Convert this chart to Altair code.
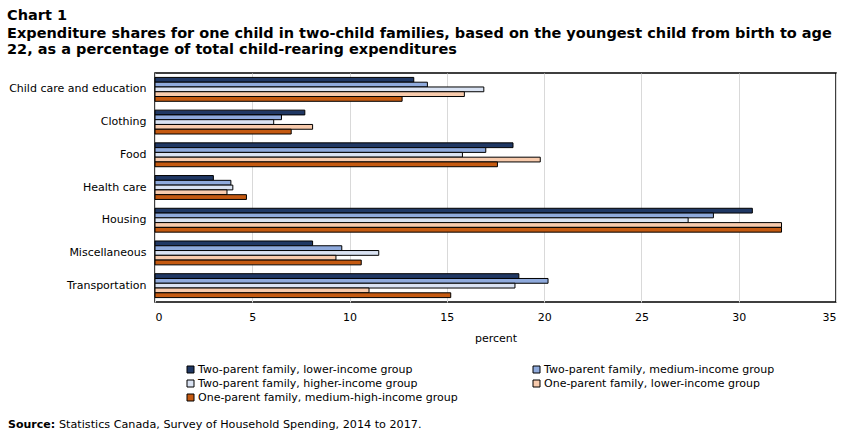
import altair as alt
import pandas as pd

# Expenditure categories (top to bottom) and family types
categories = [
    "Child care and education",
    "Clothing",
    "Food",
    "Health care",
    "Housing",
    "Miscellaneous",
    "Transportation",
]
series = [
    "Two-parent family, lower-income group",
    "Two-parent family, medium-income group",
    "Two-parent family, higher-income group",
    "One-parent family, lower-income group",
    "One-parent family, medium-high-income group",
]
colors = ["#203864", "#8faadc", "#dae3f3", "#f8cbad", "#c55a11"]

# Shares (%) by family type, in category order
two_lower = [13.3, 7.7, 18.4, 3.0, 30.7, 8.1, 18.7]
two_medium = [14.0, 6.5, 17.0, 3.9, 28.7, 9.6, 20.2]
two_higher = [16.9, 6.1, 15.8, 4.0, 27.4, 11.5, 18.5]
one_lower = [15.9, 8.1, 19.8, 3.7, 32.2, 9.3, 11.0]
one_medhigh = [12.7, 7.0, 17.6, 4.7, 32.2, 10.6, 15.2]

x_ticks = [0, 5, 10, 15, 20, 25, 30, 35]

chart_label = "Chart 1"
title_lines = [
    "Expenditure shares for one child in two-child families, based on the youngest child from birth to age",
    "22, as a percentage of total child-rearing expenditures",
]
source_label = "Source:"
source_text = "Statistics Canada, Survey of Household Spending, 2014 to 2017."

FONT = "DejaVu Sans"

rows = []
for name, vals in zip(series, [two_lower, two_medium, two_higher, one_lower, one_medhigh]):
    for cat, v in zip(categories, vals):
        rows.append({"category": cat, "series": name, "value": v})
df = pd.DataFrame(rows)

bars = alt.Chart(df).mark_bar(stroke="black", strokeWidth=1).encode(
    y=alt.Y(
        "category:N",
        sort=categories,
        scale=alt.Scale(paddingInner=0.27, paddingOuter=0.135),
        axis=alt.Axis(
            title=None, ticks=False, domain=False, labelPadding=9,
            labelFontSize=11, labelFont=FONT, labelColor="black",
        ),
    ),
    x=alt.X(
        "value:Q",
        scale=alt.Scale(domain=[0, 35], nice=False),
        axis=alt.Axis(
            values=x_ticks, title="percent", grid=True, gridColor="#d9d9d9",
            gridWidth=1, ticks=False, domain=False, labelPadding=9,
            labelFontSize=11, labelFont=FONT, labelColor="black",
            titleFont=FONT, titleFontSize=11, titleFontWeight="normal",
            titleColor="black", titlePadding=10,
        ),
    ),
    yOffset=alt.YOffset("series:N", sort=series, scale=alt.Scale(paddingInner=0, paddingOuter=0)),
    color=alt.Color(
        "series:N",
        sort=series,
        scale=alt.Scale(domain=series, range=colors),
        legend=alt.Legend(
            title=None, orient="none", legendX=30, legendY=291, columns=2,
            direction="horizontal",
            columnPadding=73, rowPadding=2, symbolType="square", symbolSize=49,
            symbolStrokeColor="black", symbolStrokeWidth=1, labelOffset=2,
            labelFont=FONT, labelFontSize=11, labelColor="black", labelLimit=400,
        ),
    ),
)

heading = alt.Chart(pd.DataFrame({"t": [chart_label]})).mark_text(
    align="left", baseline="alphabetic", font=FONT, fontSize=14.5,
    fontWeight="bold", color="black",
).encode(x=alt.value(-148), y=alt.value(-53.5), text="t:N")

title = alt.Chart(pd.DataFrame({"t": ["\n".join(title_lines)]})).mark_text(
    align="left", baseline="alphabetic", font=FONT, fontSize=14.5, fontWeight="bold",
    lineHeight=16.7, lineBreak="\n", color="black",
).encode(x=alt.value(-148), y=alt.value(-35.3), text="t:N")

src_bold = alt.Chart(pd.DataFrame({"t": [source_label]})).mark_text(
    align="left", baseline="alphabetic", font=FONT, fontSize=11,
    fontWeight="bold", color="black",
).encode(x=alt.value(-147), y=alt.value(354.5), text="t:N")

src_text = alt.Chart(pd.DataFrame({"t": [source_text]})).mark_text(
    align="left", baseline="alphabetic", font=FONT, fontSize=11.2, color="black",
).encode(x=alt.value(-96), y=alt.value(354.5), text="t:N")

chart = alt.layer(bars, heading, title, src_bold, src_text).properties(
    width=681,
    height=229,
    autosize=alt.AutoSizeParams(type="none"),
    padding={"left": 155, "top": 73, "right": 15, "bottom": 133},
).configure_view(stroke="black", strokeWidth=1.5)

chart.save("out.html", embed_options={"renderer": "svg", "actions": False})
